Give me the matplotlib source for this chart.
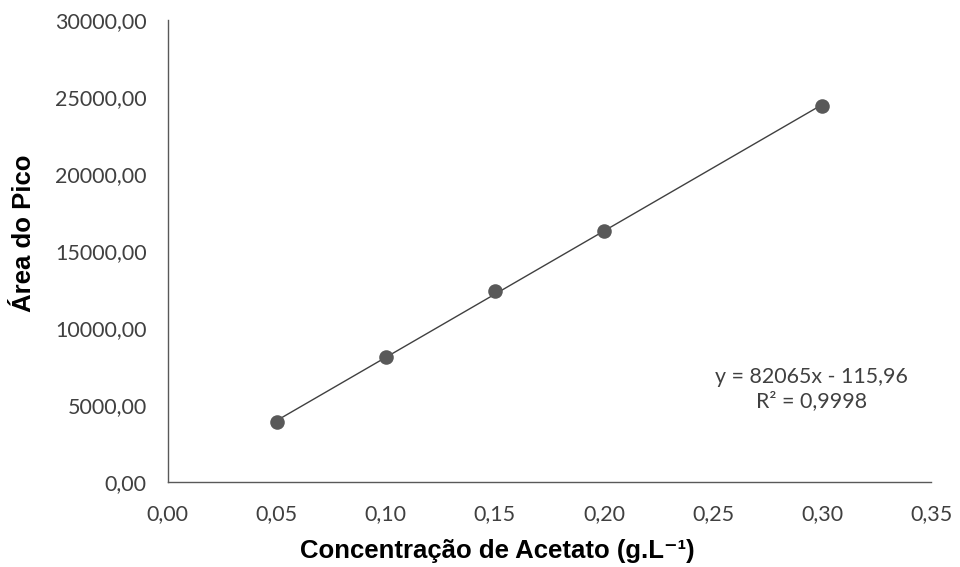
import matplotlib
matplotlib.use("Agg")
import matplotlib.pyplot as plt
from matplotlib.ticker import FuncFormatter, MultipleLocator
import numpy as np

# Calibration data: acetate concentration vs. peak area
concentracao = [0.05, 0.10, 0.15, 0.20, 0.30]
area_pico = [3916, 8097, 12422, 16320, 24416]

# Linear trendline coefficients
inclinacao = 82065
intercepto = -115.96
r2 = 0.9998

fig = plt.figure(figsize=(9.6, 5.67), dpi=100)
ax = fig.add_axes([0.1746, 0.150, 0.7954, 0.8147])

x_fit = np.array([min(concentracao), max(concentracao)])
ax.plot(x_fit, inclinacao * x_fit + intercepto, color="#404040", lw=1.0, zorder=2)
ax.scatter(concentracao, area_pico, s=110, color="#595959", zorder=3, linewidths=0)

ax.set_xlim(0, 0.35)
ax.set_ylim(0, 30000)
ax.xaxis.set_major_locator(MultipleLocator(0.05))
ax.yaxis.set_major_locator(MultipleLocator(5000))
ax.xaxis.set_major_formatter(FuncFormatter(lambda v, p: f"{v:.2f}".replace(".", ",")))
ax.yaxis.set_major_formatter(FuncFormatter(lambda v, p: f"{v:.2f}".replace(".", ",")))

for s in ("top", "right"):
    ax.spines[s].set_visible(False)
for s in ("left", "bottom"):
    ax.spines[s].set_color("#595959")
    ax.spines[s].set_linewidth(1.0)

ax.tick_params(axis="both", length=0, labelsize=15.5, labelcolor="#404040")
ax.tick_params(axis="x", pad=16)
ax.tick_params(axis="y", pad=15)
for lbl in ax.get_xticklabels() + ax.get_yticklabels():
    lbl.set_family("Lato")

xl = ax.set_xlabel("Concentração de Acetato (g.L⁻¹)", fontsize=18.5, fontweight="bold",
                   family=["Liberation Sans", "DejaVu Sans"])
xl.set_va("center")
ax.xaxis.set_label_coords(0.4315, -0.149)

yl = ax.set_ylabel("Área do Pico", fontsize=18.5, fontweight="bold",
                   family=["Liberation Sans", "DejaVu Sans"])
yl.set_va("center")
ax.yaxis.set_label_coords(-0.188, 0.539)

eq = f"y = {inclinacao}x - {abs(intercepto):.2f}".replace(".", ",")
r2_txt = f"R² = {r2:.4f}".replace(".", ",")
ax.text(0.2951, 6040, eq + "\n" + r2_txt, ha="center", va="center",
        fontsize=15.4, family="Lato", color="#404040", linespacing=1.3)

fig.savefig("out.png", dpi=100)
